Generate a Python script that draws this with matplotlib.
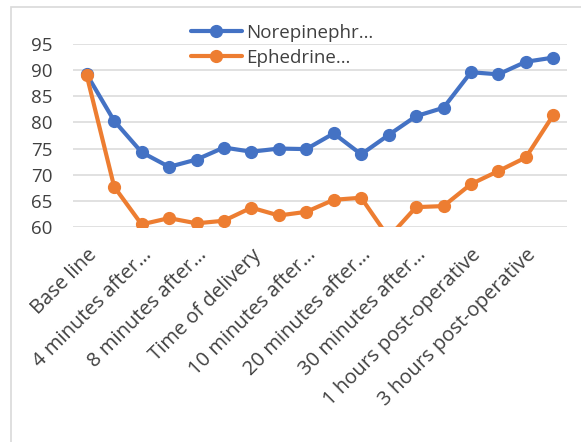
"""Norepinephrine vs ephedrine line chart."""
import matplotlib

matplotlib.use("Agg")
import matplotlib.pyplot as plt
from matplotlib.patches import Rectangle
from matplotlib.transforms import ScaledTranslation

plt.rcParams["font.family"] = ["Open Sans", "DejaVu Sans"]

n_points = 18
norepinephrine = [89.2, 80.3, 74.3, 71.5, 72.9, 75.2, 74.4, 75.0, 74.9, 77.9,
                  73.9, 77.6, 81.2, 82.8, 89.6, 89.2, 91.6, 92.4]
ephedrine = [89.0, 67.7, 60.5, 61.7, 60.7, 61.2, 63.7, 62.2, 62.9, 65.2,
             65.6, 58.0, 63.8, 64.0, 68.2, 70.7, 73.3, 81.4]
tick_labels = ["Base line", "4 minutes after…", "8 minutes after…", "Time of delivery",
               "10 minutes after…", "20 minutes after…", "30 minutes after…",
               "1 hours post-operative", "3 hours post-operative"]
series_names = ["Norepinephr…", "Ephedrine…"]
y_ticks = [60, 65, 70, 75, 80, 85, 90, 95]

W, H = 581, 442
fig = plt.figure(figsize=(W / 100, H / 100), dpi=100)
ax = fig.add_axes([73 / W, 1 - 227 / H, (567 - 73) / W, (227 - 44) / H])

x = list(range(n_points))
ax.plot(x, norepinephrine, color="#4472C4", lw=3, marker="o", ms=8.5,
        label=series_names[0], solid_capstyle="round", zorder=3)
ax.plot(x, ephedrine, color="#ED7D31", lw=3, marker="o", ms=8.5,
        label=series_names[1], solid_capstyle="round", zorder=3)

ax.set_xlim(-0.5, n_points - 0.5)
ax.set_ylim(60, 95)
ax.set_yticks(y_ticks)
ax.grid(axis="y", color="#D9D9D9", lw=1.1)
ax.set_axisbelow(True)
for s in ax.spines.values():
    s.set_visible(False)

ax.set_xticks(x[::2])
ax.set_xticklabels(tick_labels, rotation=45, ha="right", va="top",
                   rotation_mode="anchor", fontsize=14.5, color="#404040")
shift = ScaledTranslation(-0.04, -0.02, fig.dpi_scale_trans)
for lab in ax.get_xticklabels():
    lab.set_transform(lab.get_transform() + shift)
ax.tick_params(axis="x", length=0, pad=13)
ax.tick_params(axis="y", length=0, pad=15, labelsize=13.5, labelcolor="#404040")

fig.legend(loc="upper left", bbox_to_anchor=(191 / W, 1 - 24 / H), frameon=False,
           fontsize=13.5, handlelength=2.7, handletextpad=0.25, borderpad=0,
           borderaxespad=0, labelspacing=0.36, labelcolor="#404040")

fig.patches.append(Rectangle((11 / W, -0.1), 1, 1.1 - 7 / H, transform=fig.transFigure,
                             fill=False, edgecolor="#D9D9D9", lw=1.2))

fig.savefig("out.png", dpi=100)
